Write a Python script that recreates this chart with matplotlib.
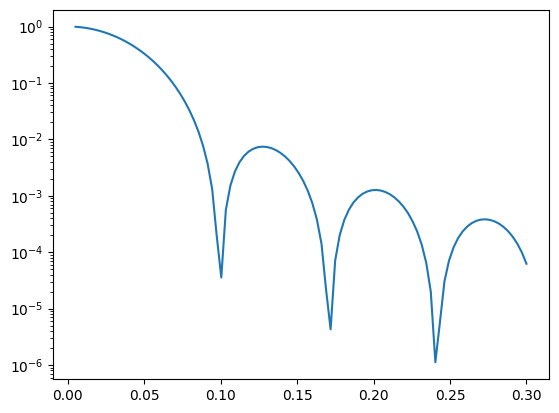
import matplotlib
matplotlib.use("Agg")
import matplotlib.pyplot as plt

# scattering vector q (values along the x axis)
q = [0.00500, 0.00798, 0.01096, 0.01394, 0.01692, 0.01990, 0.02288, 0.02586, 0.02884, 0.03182,
     0.03480, 0.03778, 0.04076, 0.04374, 0.04672, 0.04970, 0.05268, 0.05566, 0.05864, 0.06162,
     0.06460, 0.06758, 0.07056, 0.07354, 0.07652, 0.07949, 0.08247, 0.08545, 0.08843, 0.09141,
     0.09439, 0.09737, 0.10035, 0.10333, 0.10631, 0.10929, 0.11227, 0.11525, 0.11823, 0.12121,
     0.12419, 0.12717, 0.13015, 0.13313, 0.13611, 0.13909, 0.14207, 0.14505, 0.14803, 0.15101,
     0.15399, 0.15697, 0.15995, 0.16293, 0.16591, 0.16889, 0.17187, 0.17485, 0.17783, 0.18081,
     0.18379, 0.18677, 0.18975, 0.19273, 0.19571, 0.19869, 0.20167, 0.20465, 0.20763, 0.21061,
     0.21359, 0.21657, 0.21955, 0.22253, 0.22551, 0.22848, 0.23146, 0.23444, 0.23742, 0.24040,
     0.24338, 0.24636, 0.24934, 0.25232, 0.25530, 0.25828, 0.26126, 0.26424, 0.26722, 0.27020,
     0.27318, 0.27616, 0.27914, 0.28212, 0.28510, 0.28808, 0.29106, 0.29404, 0.29702, 0.30000]

# intensity
intensity = [0.9898, 0.9743, 0.9519, 0.9232, 0.8887, 0.8490, 0.8047, 0.7567, 0.7057, 0.6527,
             0.5983, 0.5435, 0.4890, 0.4355, 0.3838, 0.3345, 0.2879, 0.2446, 0.2048, 0.1688,
             0.1368, 0.1086, 0.08425, 0.06363, 0.04654, 0.03270, 0.02184, 0.01362, 7.685e-3, 3.698e-3,
             1.311e-3, 1.934e-4, 3.56e-5, 5.61e-4, 1.520e-3, 2.702e-3, 3.938e-3, 5.093e-3, 6.069e-3, 6.793e-3,
             7.254e-3, 7.424e-3, 7.323e-3, 6.982e-3, 6.443e-3, 5.754e-3, 4.969e-3, 4.139e-3, 3.311e-3, 2.528e-3,
             1.822e-3, 1.219e-3, 7.348e-4, 3.757e-4, 1.408e-4, 2.174e-5, 4.3e-6, 7.112e-5, 2.008e-4, 3.719e-4,
             5.636e-4, 7.561e-4, 9.327e-4, 1.080e-3, 1.188e-3, 1.251e-3, 1.267e-3, 1.238e-3, 1.168e-3, 1.065e-3,
             9.356e-4, 7.906e-4, 6.394e-4, 4.909e-4, 3.513e-4, 2.337e-4, 1.364e-4, 6.476e-5, 1.982e-5, 1.12e-6,
             5.702e-6, 3.056e-5, 7.097e-5, 1.218e-4, 1.778e-4, 2.337e-4, 2.851e-4, 3.280e-4, 3.596e-4, 3.779e-4,
             3.824e-4, 3.731e-4, 3.514e-4, 3.192e-4, 2.791e-4, 2.340e-4, 1.870e-4, 1.410e-4, 9.869e-5, 6.232e-5]

fig = plt.figure(figsize=(5.59, 4.13), dpi=100)
ax = fig.add_axes([53 / 559, 34 / 413, 496 / 559, 369 / 413])
ax.plot(q, intensity)
ax.set_yscale('log')

fig.savefig('out.png', dpi=100)
